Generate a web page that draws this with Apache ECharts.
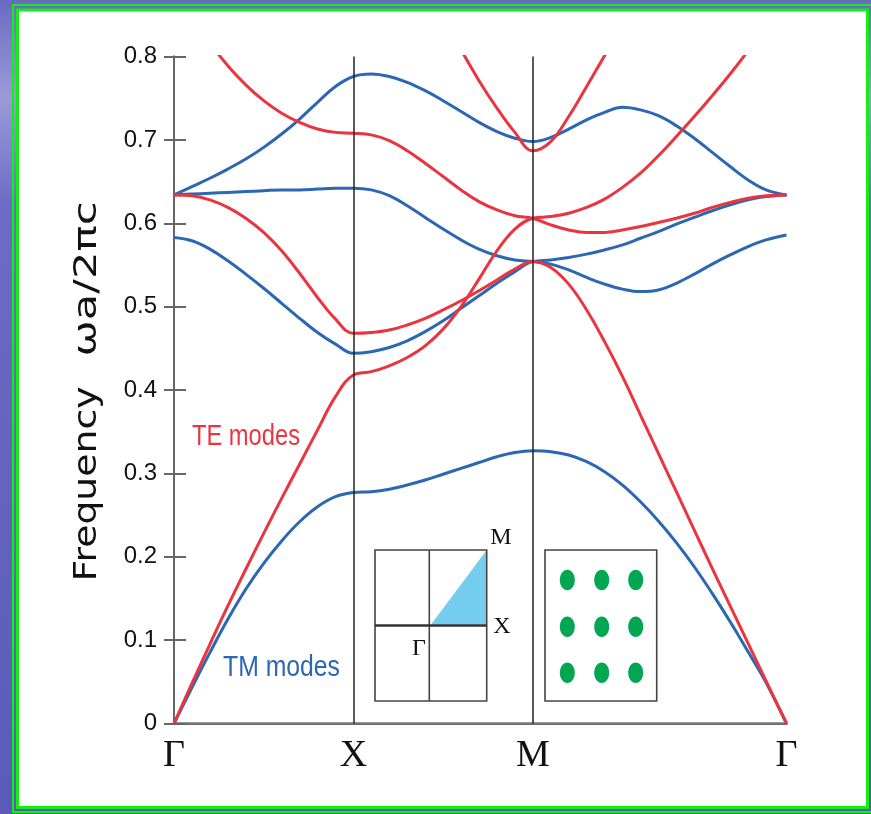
<!DOCTYPE html>
<html><head><meta charset="utf-8">
<script src="https://cdn.jsdelivr.net/npm/echarts@6/dist/echarts.min.js"></script>
<style>html,body{margin:0;padding:0;background:#fff}#c{width:871px;height:814px}</style>
</head><body><div id="c"></div>
<script>
// high-symmetry points along the k-path and their labels
const symPos = [0, 1, 2, 3.414];
const symLabels = ['Γ', 'X', 'M', 'Γ'];
// sample positions on each path segment
const tGX = [0, 0.1, 0.2, 0.3, 0.4, 0.5, 0.6, 0.7, 0.8, 0.9, 1.0];
const tXM = [1.0, 1.1, 1.2, 1.3, 1.4, 1.5, 1.6, 1.7, 1.8, 1.9, 2.0];
const tMG = [2.0, 2.1, 2.2, 2.3, 2.4, 2.5, 2.6, 2.7, 2.8, 2.9, 3.0, 3.1, 3.2, 3.3, 3.414];

// TM bands (blue), frequency ωa/2πc
const tm1GX = [0, 0.043, 0.085, 0.125, 0.161, 0.192, 0.219, 0.242, 0.260, 0.272, 0.277];
const tm1XM = [0.277, 0.278, 0.281, 0.286, 0.292, 0.299, 0.306, 0.313, 0.320, 0.325, 0.327];
const tm1MG = [0.327, 0.326, 0.322, 0.314, 0.302, 0.286, 0.266, 0.243, 0.217, 0.188, 0.156, 0.122, 0.086, 0.049, 0];
const tm2GX = [0.583, 0.579, 0.569, 0.555, 0.539, 0.522, 0.504, 0.486, 0.469, 0.455, 0.444];
const tm2XM = [0.444, 0.446, 0.451, 0.459, 0.470, 0.483, 0.498, 0.513, 0.528, 0.542, 0.554];
const tm2MG = [0.554, 0.556, 0.559, 0.563, 0.568, 0.574, 0.582, 0.590, 0.599, 0.607, 0.615, 0.622, 0.628, 0.632, 0.634];
const tm3GX = [0.634, 0.635, 0.636, 0.637, 0.638, 0.639, 0.640, 0.640, 0.641, 0.642, 0.642];
const tm3XM = [0.642, 0.640, 0.633, 0.621, 0.607, 0.593, 0.580, 0.569, 0.561, 0.556, 0.554];
const tm3MG = [0.554, 0.551, 0.544, 0.535, 0.527, 0.521, 0.518, 0.520, 0.528, 0.539, 0.551, 0.562, 0.572, 0.580, 0.586];
const tm4GX = [0.634, 0.644, 0.654, 0.665, 0.677, 0.691, 0.707, 0.725, 0.745, 0.764, 0.776];
const tm4XM = [0.776, 0.779, 0.776, 0.769, 0.759, 0.747, 0.734, 0.721, 0.710, 0.702, 0.698];
const tm4MG = [0.698, 0.703, 0.713, 0.724, 0.733, 0.739, 0.736, 0.729, 0.717, 0.702, 0.685, 0.668, 0.652, 0.640, 0.634];

// TE bands (red); null = far outside the plotted range
const te1GX = [0, 0.048, 0.095, 0.141, 0.185, 0.228, 0.270, 0.311, 0.352, 0.392, 0.418];
const te1XM = [0.418, 0.422, 0.429, 0.439, 0.453, 0.473, 0.500, 0.533, 0.567, 0.593, 0.606];
const te1MG = [0.606, 0.608, 0.612, 0.619, 0.629, 0.643, 0.660, 0.681, 0.704, 0.728, 0.753, 0.779, 0.807, 0.838, 0.875];
const te2GX = [0.634, 0.633, 0.628, 0.619, 0.606, 0.589, 0.567, 0.540, 0.511, 0.485, 0.468];
const te2XM = [0.468, 0.469, 0.472, 0.478, 0.486, 0.496, 0.507, 0.519, 0.532, 0.545, 0.554];
const te2MG = [0.554, 0.547, 0.527, 0.496, 0.458, 0.416, 0.370, 0.324, 0.278, 0.232, 0.186, 0.141, 0.096, 0.051, 0];
const te3GX = [0.879, 0.846, 0.816, 0.789, 0.766, 0.747, 0.732, 0.721, 0.713, 0.709, 0.708];
const te3XM = [0.708, 0.706, 0.699, 0.687, 0.672, 0.656, 0.640, 0.626, 0.616, 0.609, 0.606];
const te3MG = [0.606, 0.598, 0.592, 0.589, 0.589, 0.592, 0.596, 0.601, 0.606, 0.612, 0.619, 0.625, 0.630, 0.633, 0.634];
const te4XM = [null, null, null, null, 0.885, 0.846, 0.808, 0.771, 0.738, 0.709, 0.687];
const te4MG = [0.687, 0.698, 0.728, 0.764, 0.801, 0.838, null, null, null, null, null, null, null, null, null];

const BLUE = '#2b67b2', RED = '#ea3540';
const bands = [
  {color: BLUE, segs: [[tGX, tm1GX], [tXM, tm1XM], [tMG, tm1MG]]},
  {color: BLUE, segs: [[tGX, tm2GX], [tXM, tm2XM], [tMG, tm2MG]]},
  {color: BLUE, segs: [[tGX, tm3GX], [tXM, tm3XM], [tMG, tm3MG]]},
  {color: BLUE, segs: [[tGX, tm4GX], [tXM, tm4XM], [tMG, tm4MG]]},
  {color: RED, segs: [[tGX, te1GX], [tXM, te1XM], [tMG, te1MG]]},
  {color: RED, segs: [[tGX, te2GX], [tXM, te2XM], [tMG, te2MG]]},
  {color: RED, segs: [[tGX, te3GX], [tXM, te3XM], [tMG, te3MG]]},
  {color: RED, segs: [[tXM, te4XM], [tMG, te4MG]]}
];

const series = [{
  type: 'line', data: [], silent: true, z: 1,
  markLine: {
    silent: true, symbol: ['none', 'none'], label: {show: false},
    lineStyle: {color: '#222', width: 1.5, type: 'solid'},
    data: [{xAxis: symPos[1]}, {xAxis: symPos[2]}]
  }
}];
bands.forEach(b => {
  const data = [];
  b.segs.forEach(([ts, fs], si) => {
    ts.forEach((t, i) => {
      if (si > 0 && i === 0) return;           // shared end point of previous segment
      if (fs[i] !== null) data.push([t, fs[i]]);
    });
  });
  series.push({
    type: 'line', data, smooth: 0.4, showSymbol: false, silent: true, z: 3,
    lineStyle: {width: 3, color: b.color}, itemStyle: {color: b.color}
  });
});

function fitScale(text, font, target) {
  const ctx = document.createElement('canvas').getContext('2d');
  ctx.font = font;
  return target / ctx.measureText(text).width;
}
const yFont = '32px "DejaVu Sans"';
const modeFont = '30px "Liberation Sans"';

const dotCols = [567.3, 601.7, 635.7], dotRows = [580, 626.7, 672.7];
const dots = [];
dotRows.forEach(cy => dotCols.forEach(cx => dots.push({
  type: 'ellipse', z: 10, shape: {cx, cy, rx: 7.5, ry: 10.3}, style: {fill: '#00a651'}
})));

const graphic = [
  {type: 'rect', z: -10, shape: {x: 0, y: 0, width: 871, height: 814},
   style: {fill: new echarts.graphic.LinearGradient(0, 0, 0, 1, [
     {offset: 0, color: '#6a6ac4'}, {offset: 0.12, color: '#9a9ad8'}, {offset: 0.25, color: '#6c6cc6'},
     {offset: 1, color: '#5a5ab8'}])}},
  {type: 'rect', z: -9, shape: {x: 13, y: 5, width: 870, height: 807}, style: {fill: 'none', stroke: '#12f012', lineWidth: 2}},
  {type: 'rect', z: -8, shape: {x: 16, y: 8.5, width: 853, height: 800.5}, style: {fill: '#12f012'}},
  {type: 'rect', z: -7, shape: {x: 19, y: 11.5, width: 847, height: 794.5}, style: {fill: '#ffffff'}},
  // inset: Brillouin zone
  {type: 'polygon', z: 10, shape: {points: [[431, 624.5], [486, 551], [486, 624.5]]}, style: {fill: '#74cdee'}},
  {type: 'rect', z: 11, shape: {x: 375, y: 550, width: 111.7, height: 151}, style: {fill: 'none', stroke: '#444', lineWidth: 1.6}},
  {type: 'line', z: 11, shape: {x1: 429.3, y1: 550, x2: 429.3, y2: 701}, style: {stroke: '#444', lineWidth: 1.6}},
  {type: 'line', z: 11, shape: {x1: 375, y1: 625.5, x2: 486.7, y2: 625.5}, style: {stroke: '#333', lineWidth: 2.6}},
  {type: 'text', z: 11, style: {text: 'M', x: 500.8, y: 538, font: '24px "Liberation Serif"', fill: '#111', align: 'center', verticalAlign: 'middle'}},
  {type: 'text', z: 11, style: {text: 'X', x: 502, y: 627, font: '24px "Liberation Serif"', fill: '#111', align: 'center', verticalAlign: 'middle'}},
  {type: 'text', z: 11, style: {text: 'Γ', x: 419, y: 649, font: '24px "Liberation Serif"', fill: '#111', align: 'center', verticalAlign: 'middle'}},
  // inset: square lattice of rods
  {type: 'rect', z: 11, shape: {x: 545, y: 550, width: 111.7, height: 151}, style: {fill: 'none', stroke: '#444', lineWidth: 1.6}},
  ...dots,
  // mode labels
  {type: 'text', z: 11, x: 192, y: 437, scaleX: fitScale('TE modes', modeFont, 108),
   style: {text: 'TE modes', x: 0, y: 0, font: modeFont, fill: RED, verticalAlign: 'middle'}},
  {type: 'text', z: 11, x: 223, y: 668, scaleX: fitScale('TM modes', modeFont, 117),
   style: {text: 'TM modes', x: 0, y: 0, font: modeFont, fill: BLUE, verticalAlign: 'middle'}},
  // y axis title
  {type: 'text', z: 11, x: 88, y: 484, rotation: Math.PI / 2, scaleX: fitScale('Frequency', yFont, 195),
   style: {text: 'Frequency', x: 0, y: 0, font: yFont, fill: '#111', align: 'center', verticalAlign: 'middle'}},
  {type: 'text', z: 11, x: 88, y: 279, rotation: Math.PI / 2, scaleX: fitScale('ωa/2πc', yFont, 155),
   style: {text: 'ωa/2πc', x: 0, y: 0, font: yFont, fill: '#111', align: 'center', verticalAlign: 'middle'}}
];

const chart = echarts.init(document.getElementById('c'), null, {renderer: 'canvas'});
chart.setOption({
  animation: false,
  backgroundColor: 'transparent',
  grid: {left: 174, right: 84.5, top: 56.5, bottom: 90.5},
  xAxis: [{
    type: 'value', min: symPos[0], max: symPos[3],
    axisLine: {show: true, lineStyle: {color: '#444', width: 2}},
    axisTick: {show: false}, splitLine: {show: false},
    axisLabel: {
      customValues: symPos, margin: 14, fontSize: 38, fontFamily: '"Liberation Serif", serif', color: '#111',
      formatter: v => { const i = symPos.findIndex(p => Math.abs(p - v) < 1e-6); return i >= 0 ? symLabels[i] : ''; }
    }
  }, {
    type: 'value', position: 'top', min: symPos[0], max: symPos[3],
    axisLine: {show: true, lineStyle: {color: '#777', width: 2.5}},
    axisTick: {show: false}, axisLabel: {show: false}, splitLine: {show: false}
  }],
  yAxis: [{
    type: 'value', min: 0, max: 0.8, interval: 0.1,
    axisLine: {show: true, lineStyle: {color: '#555', width: 2}},
    axisTick: {show: true, inside: true, length: 12, lineStyle: {color: '#666', width: 2}},
    splitLine: {show: false},
    axisLabel: {margin: 17, fontSize: 24, fontFamily: '"Liberation Sans", sans-serif', color: '#111',
      formatter: v => v === 0 ? '0' : v.toFixed(1)}
  }, {
    type: 'value', position: 'right', min: 0, max: 0.8, interval: 0.1,
    axisLine: {show: true, lineStyle: {color: '#666', width: 2}},
    axisTick: {show: true, inside: true, length: 10, lineStyle: {color: '#666', width: 2}},
    axisLabel: {show: false}, splitLine: {show: false}
  }],
  series,
  graphic
});
</script></body></html>
